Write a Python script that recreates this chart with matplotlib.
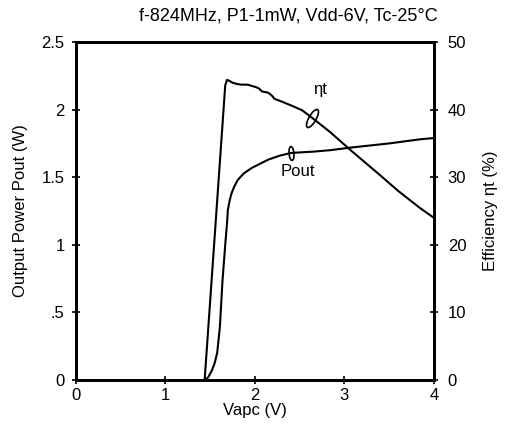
import numpy as np
import matplotlib
matplotlib.use("Agg")
import matplotlib.pyplot as plt
from matplotlib.path import Path

plt.rcParams['font.family'] = ['Liberation Sans', 'DejaVu Sans']

# Pout (W) vs Vapc (V)
pout_v = [1.44, 1.48, 1.52, 1.55, 1.58, 1.61, 1.64, 1.67, 1.69, 1.70, 1.72, 1.74, 1.77, 1.81, 1.88,
          1.97, 2.06, 2.15, 2.28, 2.41, 2.67, 2.84, 3.08, 3.50, 3.84, 4.0]
pout_w = [0.0, 0.02, 0.07, 0.12, 0.20, 0.39, 0.74, 1.00, 1.16, 1.26, 1.33, 1.38, 1.43, 1.48, 1.53,
          1.57, 1.60, 1.63, 1.66, 1.68, 1.69, 1.70, 1.72, 1.75, 1.78, 1.79]

# Efficiency (%) vs Vapc (V)
eff_v = [1.44, 1.67, 1.69, 1.71, 1.75, 1.80, 1.85, 1.92, 1.97, 2.02, 2.05, 2.08, 2.12, 2.15, 2.19,
         2.22, 2.26, 2.30, 2.41, 2.53, 2.64, 2.84, 3.08, 3.40, 3.60, 3.84, 4.0]
eff_p = [0.0, 43.6, 44.4, 44.3, 44.0, 43.8, 43.7, 43.7, 43.5, 43.3, 43.1, 42.7, 42.6, 42.5, 42.1,
         41.6, 41.4, 41.2, 40.6, 39.9, 38.8, 36.7, 33.9, 30.3, 28.0, 25.5, 24.0]

xticks = [0, 1, 2, 3, 4]
lticks = [0, 0.5, 1, 1.5, 2, 2.5]
lticklabels = ['0', '.5', '1', '1.5', '2', '2.5']
rticks = [0, 10, 20, 30, 40, 50]

FS = 12

fig = plt.figure(figsize=(5.05, 4.25), dpi=100)
ax = fig.add_axes([0.150, 0.106, 0.709, 0.795])
ax2 = ax.twinx()

ax.plot(pout_v, pout_w, color='black', lw=1.5, solid_joinstyle='round')
ax2.plot(eff_v, eff_p, color='black', lw=1.5, solid_joinstyle='round')

ax.set_xlim(0, 4)
ax.set_ylim(0, 2.5)
ax2.set_ylim(0, 50)
ax.set_xticks(xticks)
ax.set_yticks(lticks)
ax.set_yticklabels(lticklabels)
ax2.set_yticks(rticks)

for a in (ax, ax2):
    for s in a.spines.values():
        s.set_linewidth(2.0)
    a.tick_params(direction='inout', length=6, width=1.2, labelsize=FS)
ax.tick_params(axis='x', pad=3)
ax.tick_params(axis='y', pad=5)
ax2.tick_params(axis='y', pad=7)

ax.set_xlabel('Vapc (V)', fontsize=FS, labelpad=0)
ax.set_ylabel('Output Power Pout (W)', fontsize=FS, labelpad=10)
ax2.set_ylabel('Efficiency \u03b7t (%)', fontsize=FS, labelpad=12)

fig.text(0.866, 0.962, 'f-824MHz, P1-1mW, Vdd-6V, Tc-25\u00b0C', fontsize=13, ha='right', va='center')

ax2.text(2.73, 43.0, '\u03b7t', fontsize=FS, ha='center', va='center')
ax.text(2.48, 1.54, 'Pout', fontsize=FS, ha='center', va='center')

def ellipse_marker(a, b, ang):
    t = np.linspace(0, 2*np.pi, 40)
    x = a*np.cos(t); y = b*np.sin(t)
    c, s = np.cos(np.radians(ang)), np.sin(np.radians(ang))
    verts = np.column_stack([x*c - y*s, x*s + y*c])
    return Path(verts, closed=True)

ax2.plot([2.64], [38.8], marker=ellipse_marker(1.0, 0.35, 60), ms=13,
         mfc='none', mec='black', mew=1.2, ls='none')
ax.plot([2.41], [1.68], marker=ellipse_marker(1.0, 0.35, 95), ms=10,
        mfc='none', mec='black', mew=1.2, ls='none')

fig.savefig('out.png', dpi=100)
